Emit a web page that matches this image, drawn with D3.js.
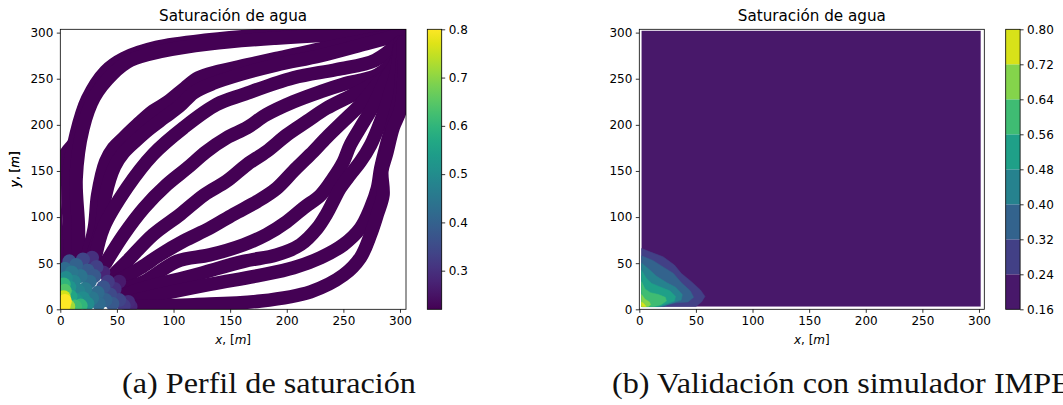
<!DOCTYPE html>
<meta charset="utf-8">
<script src="https://d3js.org/d3.v7.min.js"></script>
<style>
  body { margin: 0; background: #fff; }
</style>
<div id="chart"></div>
<script>
// streamlines of the particle tracking, [x, y] in m
var streamlines = [
  [[3, 20], [-3, 80], [-4, 140], [3, 165], [11, 178]],
  [[10, 30], [8, 90], [7, 142], [14, 190], [24, 228], [40, 258], [56, 272], [85, 284], [130, 292], [190, 298], [250, 301], [300, 301]],
  [[16, 40], [16, 90], [14, 142], [20, 196], [30, 230], [46, 255], [62, 270], [90, 280], [132, 288], [190, 294], [250, 298], [300, 300]],
  [[22, 50], [30, 88], [33, 124], [40, 160], [47, 175], [56, 186], [68, 200], [82, 215], [95, 225], [110, 240], [122, 251], [140, 258], [165, 265], [191, 272], [221, 280], [250, 287], [280, 294], [300, 298]],
  [[26, 50], [36, 88], [40, 124], [48, 155], [56, 170], [66, 182], [78, 195], [92, 208], [105, 220], [118, 235], [135, 245], [160, 255], [191, 265], [230, 275], [270, 288], [300, 298]],
  [[30, 50], [38, 88], [59, 132], [82, 168], [109, 197], [138, 222], [162, 233], [206, 251], [244, 260], [278, 270], [300, 290]],
  [[40, 50], [56, 81], [74, 110], [94, 135], [112, 153], [129, 171], [147, 186], [165, 197], [182, 211], [206, 225], [230, 236], [250, 244], [280, 254], [300, 275]],
  [[45, 35], [59, 52], [82, 81], [106, 103], [127, 124], [147, 139], [165, 157], [182, 171], [200, 189], [218, 204], [235, 218], [259, 233], [280, 247], [294, 258], [302, 285]],
  [[50, 30], [71, 45], [88, 59], [109, 74], [132, 88], [153, 103], [174, 117], [191, 131], [206, 150], [221, 168], [235, 186], [250, 204], [265, 222], [280, 244], [294, 262], [300, 285]],
  [[55, 22], [74, 30], [103, 52], [132, 59], [162, 70], [182, 81], [200, 95], [215, 110], [230, 124], [241, 142], [250, 160], [256, 178], [265, 197], [277, 222], [288, 251], [297, 269], [300, 290]],
  [[55, 15], [74, 23], [118, 37], [162, 52], [191, 59], [212, 70], [227, 88], [235, 103], [241, 117], [247, 131], [256, 146], [265, 160], [274, 178], [283, 204], [291, 233], [297, 258], [300, 285]],
  [[60, 8], [88, 16], [132, 27], [177, 37], [206, 45], [230, 56], [250, 70], [265, 88], [274, 110], [280, 131], [283, 153], [288, 178], [294, 204], [300, 233], [302, 270]],
  [[60, 3], [118, 5], [177, 9], [221, 19], [250, 37], [265, 56], [274, 81], [280, 103], [285, 124], [284, 150], [288, 168], [294, 197], [300, 215], [303, 240], [303, 290]]
];

// high saturation points near the injector, [x, y, Sw]
var frontPoints = [
  [62, 3, 0.28], [52, 30, 0.26], [38, 40, 0.28], [60, 8, 0.29], [48, 22, 0.3], [28, 56, 0.3],
  [56, 4, 0.32], [42, 30, 0.32], [32, 46, 0.33], [20, 54, 0.34], [52, 10, 0.34], [44, 16, 0.35],
  [8, 52, 0.36], [38, 24, 0.37], [46, 6, 0.38], [24, 42, 0.38], [30, 36, 0.38], [40, 10, 0.4],
  [14, 48, 0.4], [26, 30, 0.42], [33, 18, 0.42], [34, 6, 0.42], [4, 44, 0.42], [18, 36, 0.44],
  [10, 40, 0.45], [28, 12, 0.45], [22, 22, 0.46], [16, 20, 0.48], [12, 30, 0.48], [5, 34, 0.5],
  [20, 12, 0.5], [24, 6, 0.5], [8, 24, 0.52], [14, 10, 0.52], [9, 14, 0.56], [3, 27, 0.6],
  [18, 4, 0.6], [13, 3, 0.62], [4, 20, 0.64], [7, 3, 0.72], [3, 13, 0.76], [3, 4, 0.8], [4, 9, 0.8]
];

var satTicks = [0.3, 0.4, 0.5, 0.6, 0.7, 0.8];
var satRange = [0.22, 0.8];

// IMPES contour levels and the isolines that bound each level (from left edge to bottom edge)
var levels = [0.16, 0.24, 0.32, 0.40, 0.48, 0.56, 0.64, 0.72, 0.80];
var isolines = [
  [[2, 66], [10, 62], [21, 57], [31, 48], [37, 39], [46, 30], [54, 21], [58, 14], [55, 8], [50, 3]],
  [[2, 58], [12, 53], [21, 46], [30, 39], [37, 29], [45, 20], [48, 13], [43, 8], [32, 7], [25, 5], [22, 3]],
  [[2, 50], [8, 44], [15, 36], [24, 29], [32, 24], [38, 16], [37, 10], [30, 7], [22, 4], [19, 3]],
  [[2, 42], [6, 34], [11, 28], [19, 24], [27, 20], [32, 14], [31, 9], [24, 6], [17, 3]],
  [[2, 30], [5, 22], [10, 18], [17, 16], [23, 13], [24, 9], [19, 5], [13, 3]],
  [[2, 16], [5, 11], [9, 8], [10, 5], [8, 3]],
  [[2, 8], [4, 6], [6, 3]]
];
var gridExtent = [[2, 3], [301.5, 302]];

var axisTicks = [0, 50, 100, 150, 200, 250, 300];
var chartTitle = "Saturación de agua";
var captions = ["(a) Perfil de saturación", "(b) Validación con simulador IMPES"];

var W = 1063, H = 405;
var svg = d3.select("#chart").append("svg").attr("width", W).attr("height", H)
  .style("font-family", "'DejaVu Sans', sans-serif");

var panels = [
  { left: 60.3, top: 29.3, width: 345.7, height: 280, xMax: 305.3, cbX: 427.3, capX: 122 },
  { left: 639.3, top: 29.3, width: 345, height: 280, xMax: 304.7, cbX: 1005.7, capX: 612 }
];
var cbW = 14.4;

function styleAxis(a) {
  a.select(".domain").remove();
  a.selectAll("text").attr("font-size", 12).style("font-family", "'DejaVu Sans', sans-serif").attr("fill", "#000");
  a.selectAll("line").attr("stroke", "#000").attr("stroke-width", 0.8);
}

function drawFrame(p, i) {
  var g = svg.append("g");
  var x = d3.scaleLinear().domain([0, p.xMax]).range([p.left, p.left + p.width]);
  var y = d3.scaleLinear().domain([0, 303.6]).range([p.top + p.height, p.top]);
  p.x = x; p.y = y;

  styleAxis(g.append("g").attr("transform", "translate(0," + (p.top + p.height) + ")")
    .call(d3.axisBottom(x).tickValues(axisTicks).tickSize(3.5).tickPadding(3.5)));
  styleAxis(g.append("g").attr("transform", "translate(" + p.left + ",0)")
    .call(d3.axisLeft(y).tickValues(axisTicks).tickSize(3.5).tickPadding(3.5)));

  g.append("text").attr("x", p.left + p.width / 2).attr("y", 20.5)
    .attr("text-anchor", "middle").attr("font-size", 15.2).text(chartTitle);

  var xl = g.append("text").attr("x", p.left + p.width / 2).attr("y", 344)
    .attr("text-anchor", "middle").attr("font-size", 12);
  xl.append("tspan").attr("font-style", "italic").text("x");
  xl.append("tspan").text(", [");
  xl.append("tspan").attr("font-style", "italic").text("m");
  xl.append("tspan").text("]");

  var yl = g.append("text").attr("transform", "translate(19," + (p.top + p.height / 2) + ") rotate(-90)")
    .attr("text-anchor", "middle").attr("font-size", 12);
  yl.append("tspan").attr("font-style", "italic").text("y");
  yl.append("tspan").text(", [");
  yl.append("tspan").attr("font-style", "italic").text("m");
  yl.append("tspan").text("]");

  svg.append("text").style("font-family", "'Liberation Serif', serif").attr("font-size", 29)
    .attr("transform", "translate(" + p.capX + ",393) scale(1.11,1)").attr("fill", "#111").text(captions[i]);
}

panels.forEach(drawFrame);

// ---- left: streamlines
var pL = panels[0];
svg.append("clipPath").attr("id", "clipL").append("rect")
  .attr("x", pL.left).attr("y", pL.top).attr("width", pL.width).attr("height", pL.height);
var color = d3.scaleSequential(d3.interpolateViridis).domain(satRange);
var gl = svg.append("g").attr("clip-path", "url(#clipL)");
var line = d3.line().x(function (d) { return pL.x(d[0]); }).y(function (d) { return pL.y(d[1]); })
  .curve(d3.curveCatmullRom);
gl.selectAll("path.sl").data(streamlines).enter().append("path")
  .attr("d", line).attr("fill", "none").attr("stroke", color(satRange[0]))
  .attr("stroke-width", 13.5).attr("stroke-linecap", "round").attr("stroke-linejoin", "round");
gl.selectAll("circle").data(frontPoints).enter().append("circle")
  .attr("cx", function (d) { return pL.x(d[0]); }).attr("cy", function (d) { return pL.y(d[1]); })
  .attr("r", 7).attr("fill", function (d) { return color(d[2]); });

svg.append("rect").attr("x", pL.left).attr("y", pL.top).attr("width", pL.width).attr("height", pL.height)
  .attr("fill", "none").attr("stroke", "#000").attr("stroke-width", 0.8);

// left colorbar
var defs = svg.append("defs");
var grad = defs.append("linearGradient").attr("id", "vir").attr("x1", 0).attr("y1", 1).attr("x2", 0).attr("y2", 0);
d3.range(0, 1.0001, 0.05).forEach(function (t) {
  grad.append("stop").attr("offset", t).attr("stop-color", d3.interpolateViridis(t));
});
var cbyL = d3.scaleLinear().domain(satRange).range([pL.top + pL.height, pL.top]);
svg.append("rect").attr("x", pL.cbX).attr("y", pL.top).attr("width", cbW).attr("height", pL.height)
  .attr("fill", "url(#vir)").attr("stroke", "#000").attr("stroke-width", 0.8);
styleAxis(svg.append("g").attr("transform", "translate(" + (pL.cbX + cbW) + ",0)")
  .call(d3.axisRight(cbyL).tickValues(satTicks).tickFormat(d3.format(".1f")).tickSize(3.5).tickPadding(3.5)));

// ---- right: contour bands
var pR = panels[1];
var bandColor = function (i) { return d3.interpolateViridis((i + 0.5) / (levels.length - 1)); };
var gr = svg.append("g");
gr.append("rect").attr("x", pR.x(gridExtent[0][0])).attr("y", pR.y(gridExtent[1][1]))
  .attr("width", pR.x(gridExtent[1][0]) - pR.x(gridExtent[0][0]))
  .attr("height", pR.y(gridExtent[0][1]) - pR.y(gridExtent[1][1]))
  .attr("fill", bandColor(0));
var poly = d3.line().x(function (d) { return pR.x(d[0]); }).y(function (d) { return pR.y(d[1]); });
gr.selectAll("path.band").data(isolines).enter().append("path")
  .attr("d", function (d) { return poly([gridExtent[0]].concat(d)) + "Z"; })
  .attr("fill", function (d, i) { return bandColor(i + 1); })
  .attr("stroke", function (d, i) { return bandColor(i + 1); }).attr("stroke-width", 0.5);
svg.append("rect").attr("x", pR.left).attr("y", pR.top).attr("width", pR.width).attr("height", pR.height)
  .attr("fill", "none").attr("stroke", "#000").attr("stroke-width", 0.8);

// right colorbar
var cbyR = d3.scaleLinear().domain([levels[0], levels[levels.length - 1]]).range([pR.top + pR.height, pR.top]);
svg.selectAll("rect.cb").data(levels.slice(0, -1)).enter().append("rect")
  .attr("x", pR.cbX).attr("width", cbW)
  .attr("y", function (d, i) { return cbyR(levels[i + 1]); })
  .attr("height", function (d, i) { return cbyR(levels[i]) - cbyR(levels[i + 1]); })
  .attr("fill", function (d, i) { return bandColor(i); });
svg.append("rect").attr("x", pR.cbX).attr("y", pR.top).attr("width", cbW).attr("height", pR.height)
  .attr("fill", "none").attr("stroke", "#000").attr("stroke-width", 0.8);
styleAxis(svg.append("g").attr("transform", "translate(" + (pR.cbX + cbW) + ",0)")
  .call(d3.axisRight(cbyR).tickValues(levels).tickFormat(d3.format(".2f")).tickSize(3.5).tickPadding(3.5)));
</script>
